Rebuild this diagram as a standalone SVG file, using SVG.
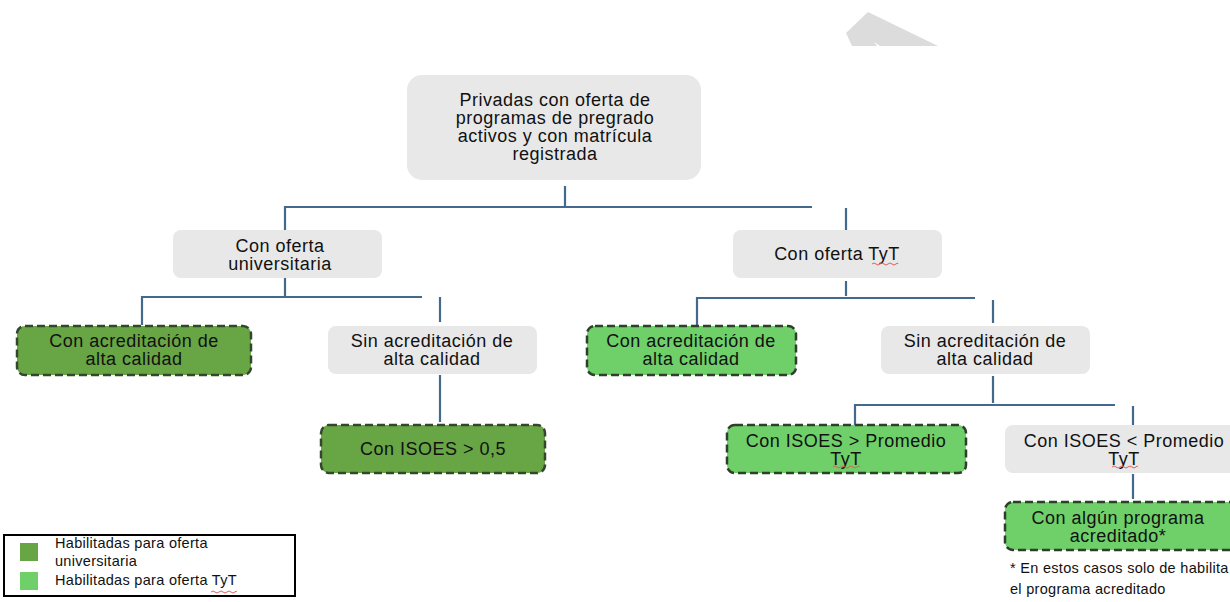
<svg xmlns="http://www.w3.org/2000/svg" width="1230" height="602" viewBox="0 0 1230 602">
<style>
text{font-family:"Liberation Sans",Arial,sans-serif;fill:#111;dominant-baseline:central}
.t{font-size:18px;letter-spacing:0.5px;text-anchor:middle}
.s{font-size:14.5px;letter-spacing:0.3px}
.grey{fill:#e8e8e8}
.dk{fill:#68a544;stroke:#34472c;stroke-width:2.5;stroke-dasharray:8 4}
.lt{fill:#6fcf69;stroke:#2f3f2c;stroke-width:2.5;stroke-dasharray:8 4}
.c line{stroke:#436a8c;stroke-width:2.2}
.sq{fill:none;stroke:#e0605a;stroke-width:1}
</style>
<rect width="1230" height="602" fill="#fff"/>
<polygon points="868,12 846,33 852,46 877,46 874,42 880,46 938,46" fill="#dcdcdc"/>
<g class="c" id="connectors">
<line x1="565" y1="186" x2="565" y2="206"/>
<line x1="284" y1="207" x2="812" y2="207"/>
<line x1="285" y1="206" x2="285" y2="231"/>
<line x1="846" y1="208" x2="846" y2="231"/>
<line x1="285" y1="278" x2="285" y2="297"/>
<line x1="141" y1="297" x2="422" y2="297"/>
<line x1="142" y1="296" x2="142" y2="325"/>
<line x1="440" y1="297" x2="440" y2="322"/>
<line x1="846" y1="281" x2="846" y2="296"/>
<line x1="696" y1="298" x2="975" y2="298"/>
<line x1="697" y1="297" x2="697" y2="325"/>
<line x1="993" y1="300" x2="993" y2="323"/>
<line x1="440" y1="375" x2="440" y2="422"/>
<line x1="993" y1="376" x2="993" y2="403"/>
<line x1="854" y1="405" x2="1115" y2="405"/>
<line x1="855" y1="404" x2="855" y2="425"/>
<line x1="1133" y1="406" x2="1133" y2="425"/>
<line x1="1133" y1="474" x2="1133" y2="499"/>
</g>
<g id="n-root">
<rect class="grey" x="407" y="75" width="294" height="105" rx="15"/>
<text class="t" x="555" y="100">Privadas con oferta de</text>
<text class="t" x="555" y="118">programas de pregrado</text>
<text class="t" x="555" y="136">activos y con matrícula</text>
<text class="t" x="555" y="154">registrada</text>
</g>
<g id="n-univ">
<rect class="grey" x="173" y="230" width="209" height="48" rx="8"/>
<text class="t" x="280" y="245.5">Con oferta</text>
<text class="t" x="280" y="263.5">universitaria</text>
</g>
<g id="n-tyt">
<rect class="grey" x="733" y="230" width="209" height="48" rx="8"/>
<text class="t" x="837" y="254">Con oferta TyT</text>
<path class="sq" d="M872,264 q2,-2 4,0 t4,0 t4,0 t4,0 t4,0 t4,0 t2,0"/>
</g>
<g id="n-u-acred">
<rect class="dk" x="17" y="326" width="234" height="49" rx="8"/>
<text class="t" x="134" y="341">Con acreditación de</text>
<text class="t" x="134" y="359">alta calidad</text>
</g>
<g id="n-u-sin">
<rect class="grey" x="328" y="326" width="209" height="48" rx="8"/>
<text class="t" x="432" y="341">Sin acreditación de</text>
<text class="t" x="432" y="359">alta calidad</text>
</g>
<g id="n-u-isoes">
<rect class="dk" x="321" y="425" width="224" height="48" rx="8"/>
<text class="t" x="433" y="449">Con ISOES &gt; 0,5</text>
</g>
<g id="n-t-acred">
<rect class="lt" x="587" y="326" width="209" height="49" rx="8"/>
<text class="t" x="691" y="341">Con acreditación de</text>
<text class="t" x="691" y="359">alta calidad</text>
</g>
<g id="n-t-sin">
<rect class="grey" x="881" y="326" width="209" height="48" rx="8"/>
<text class="t" x="985" y="341">Sin acreditación de</text>
<text class="t" x="985" y="359">alta calidad</text>
</g>
<g id="n-t-mayor">
<rect class="lt" x="727" y="425" width="239" height="48" rx="8"/>
<text class="t" x="846" y="441">Con ISOES &gt; Promedio</text>
<text class="t" x="846" y="459">TyT</text>
<path class="sq" d="M833,467 q2,-2 4,0 t4,0 t4,0 t4,0 t4,0 t4,0 t3,0"/>
</g>
<g id="n-t-menor">
<rect class="grey" x="1005" y="425" width="240" height="48" rx="8"/>
<text class="t" x="1124" y="441">Con ISOES &lt; Promedio</text>
<text class="t" x="1124" y="459">TyT</text>
<path class="sq" d="M1112,467 q2,-2 4,0 t4,0 t4,0 t4,0 t4,0 t4,0 t1,0"/>
</g>
<g id="n-t-algun">
<rect class="lt" x="1005" y="502" width="240" height="48" rx="8"/>
<text class="t" x="1118" y="517.5">Con algún programa</text>
<text class="t" x="1118" y="535.5">acreditado*</text>
</g>
<g id="footnote">
<text class="s" x="1010" y="568">* En estos casos solo de habilita</text>
<text class="s" x="1010" y="589">el programa acreditado</text>
</g>
<g id="legend">
<rect x="4" y="535" width="291" height="61" fill="#fff" stroke="#000" stroke-width="2"/>
<rect x="20" y="543" width="18" height="18" fill="#68a544"/>
<rect x="20" y="572" width="18" height="18" fill="#6fcf69"/>
<text class="s" x="55" y="543">Habilitadas para oferta</text>
<text class="s" x="55" y="561">universitaria</text>
<text class="s" x="55" y="580">Habilitadas para oferta TyT</text>
<path class="sq" d="M211,592 q2,-2 4,0 t4,0 t4,0 t4,0 t4,0 t4,0 t1,0"/>
</g>
</svg>
